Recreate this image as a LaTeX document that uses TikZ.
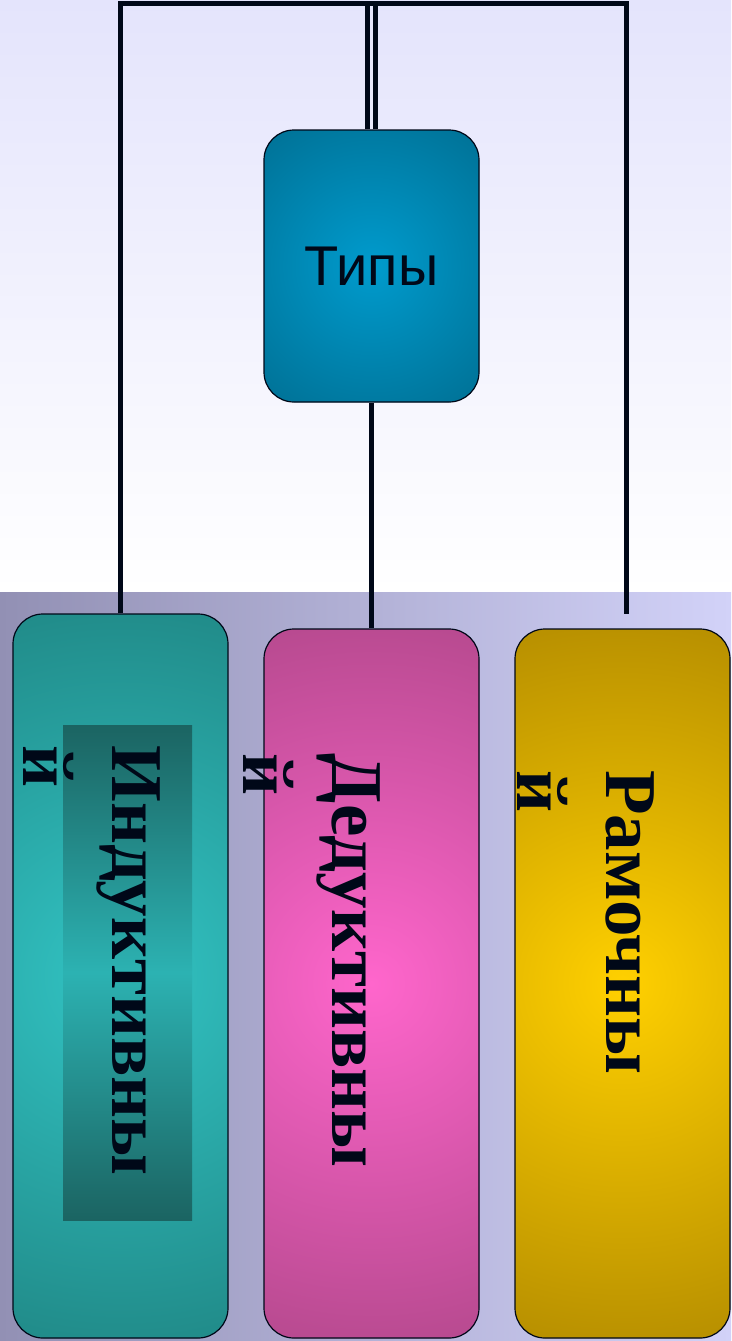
\documentclass[tikz,border=0pt]{standalone}
\usepackage{fontspec}
\setmainfont{Liberation Serif}
\newfontfamily\typesfont{Liberation Sans}
\usetikzlibrary{positioning}

\definecolor{linec}{RGB}{0,8,24}
\definecolor{bgtop}{RGB}{228,228,252}
\definecolor{bgleft}{RGB}{146,144,180}
\definecolor{bgright}{RGB}{210,210,248}
\definecolor{typesin}{RGB}{0,155,205}
\definecolor{typesout}{RGB}{0,115,152}
\definecolor{indin}{RGB}{50,196,196}
\definecolor{indout}{RGB}{33,140,138}
\definecolor{paneldark}{RGB}{27,100,98}
\definecolor{panellight}{RGB}{44,178,178}
\definecolor{dedin}{RGB}{255,102,204}
\definecolor{dedout}{RGB}{184,74,144}
\definecolor{ramin}{RGB}{255,208,0}
\definecolor{ramout}{RGB}{184,144,0}

\tikzset{
  conn/.style={line width=5pt, draw=linec},
  card/.style n args={3}{draw=linec, line width=1.2pt, rounded corners=30pt,
    fill=#2, minimum width=215pt, inner sep=0pt,
    path picture={\shade[inner color=#1, outer color=#2]
      (path picture bounding box.center) circle[radius=#3];}},
  cardtext/.style={rotate=-90, anchor=north west, align=left, inner sep=0pt, text=linec,
    font=\bfseries\fontsize{73}{89}\selectfont}
}

\begin{document}
\begin{tikzpicture}[x=1pt, y=-1pt]
  \useasboundingbox (0,0) rectangle (731,1341);
  % background
  \shade[top color=bgtop, bottom color=white] (0,0) rectangle (731,592);
  \shade[left color=bgleft, right color=bgright] (0,592) rectangle (731,1341);

  % boxes
  \node[card={typesin}{typesout}{165pt}, minimum height=272pt,
    font=\typesfont\fontsize{56}{62}\selectfont, text=linec] (types) at (371.5,266) {Типы};
  \node[card={indin}{indout}{370pt}, minimum height=724pt] (ind) at (120.5,976) {};
  \node[card={dedin}{dedout}{365pt}, minimum height=709pt] (ded) at (371.5,983.5) {};
  \node[card={ramin}{ramout}{365pt}, minimum height=709pt] (ram) at (622.5,983.5) {};

  \node[shade, top color=paneldark, bottom color=paneldark, middle color=panellight,
    minimum width=129pt, minimum height=495pt, inner sep=0pt] (indpanel) at (127.5,972.5) {};

  % labels
  \node[cardtext] (indtxt) at (160.7,745) {Индуктивны\\й};
  \node[cardtext] (dedtxt) at (380.7,753) {Дедуктивны\\й};
  \node[cardtext] (ramtxt) at (654.7,770) {Рамочны\\й};

  % connectors
  \coordinate (top) at (372,3);
  \coordinate (ramend) at (626,614);
  \draw[conn] (ind.north) |- (top) -| (ramend);
  \draw[conn] ([xshift=-4pt]types.north) -- ([xshift=-4pt]types.north |- top);
  \draw[conn] ([xshift=4pt]types.north) -- ([xshift=4pt]types.north |- top);
  \draw[conn] (types.south) -- (ded.north);
\end{tikzpicture}
\end{document}
